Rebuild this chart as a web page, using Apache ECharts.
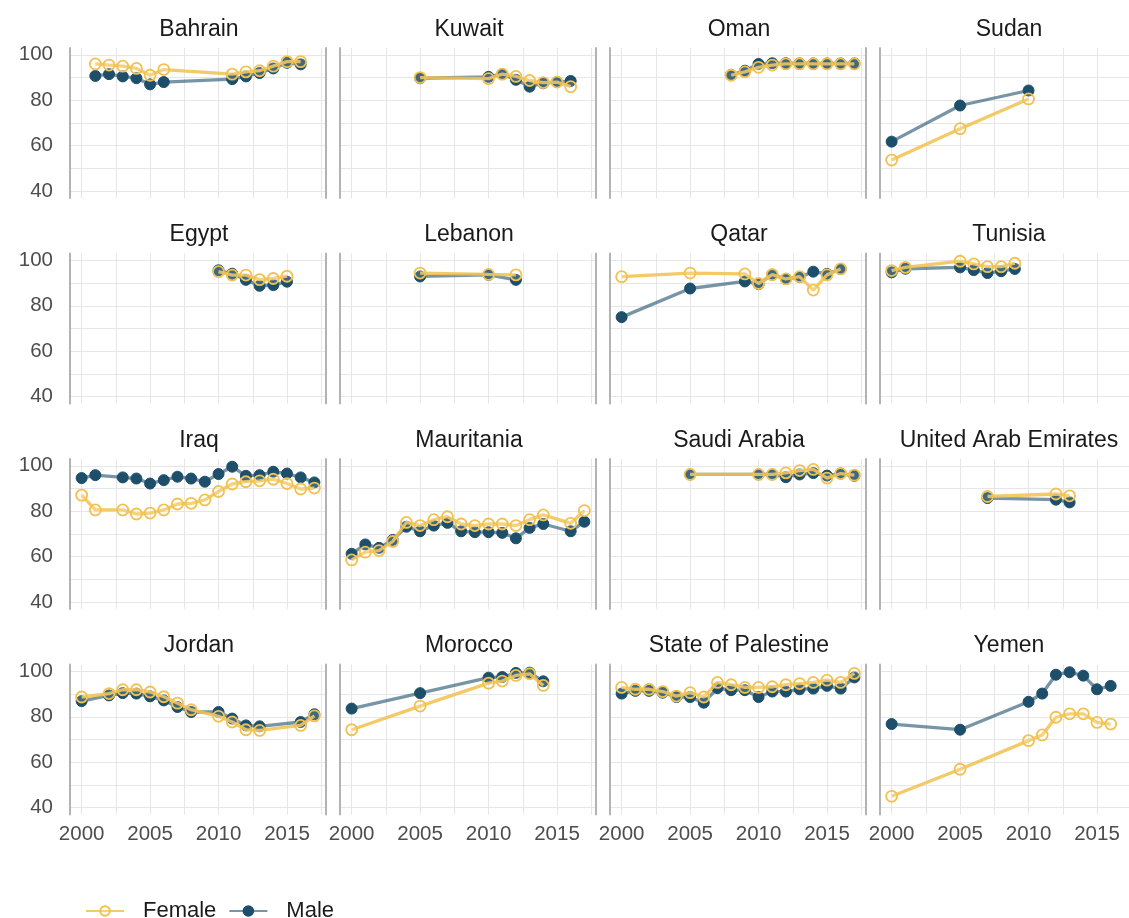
<!DOCTYPE html>
<html>
<head>
<meta charset="utf-8">
<script src="https://cdn.jsdelivr.net/npm/echarts@6/dist/echarts.min.js"></script>
<style>
  html, body { margin: 0; padding: 0; background: #fff; }
  #main { width: 1129px; height: 918px; }
</style>
</head>
<body>
<div id="main"></div>
<script>
// 国家顺序（4x4，按行）
var countries = ['Bahrain', 'Kuwait', 'Oman', 'Sudan',
  'Egypt', 'Lebanon', 'Qatar', 'Tunisia',
  'Iraq', 'Mauritania', 'Saudi Arabia', 'United Arab Emirates',
  'Jordan', 'Morocco', 'State of Palestine', 'Yemen'];

var xTicks = [2000, 2005, 2010, 2015];
var xGrid = [2000, 2002.5, 2005, 2007.5, 2010, 2012.5, 2015, 2017.5];
var yTicks = [40, 60, 80, 100];
var yGrid = [40, 50, 60, 70, 80, 90, 100];

// 各国数据（年份 / 女 / 男）
var bahrainYears = [2001, 2002, 2003, 2004, 2005, 2006, 2011, 2012, 2013, 2014, 2015, 2016];
var bahrainFemale = [96, 95.5, 95, 94, 91, 93.5, 91.5, 92.5, 93, 95, 97, 97];
var bahrainMale = [90.7, 91.5, 90.5, 89.7, 87, 88, 89.3, 90.5, 92, 94, 96.5, 95.8];

var kuwaitYears = [2005, 2010, 2011, 2012, 2013, 2014, 2015, 2016];
var kuwaitFemale = [90, 89.5, 91.5, 90.5, 88.7, 87.8, 88, 86];
var kuwaitMale = [89.7, 90.3, 91.5, 89, 86, 87.5, 88, 88.5];

var omanYears = [2008, 2009, 2010, 2011, 2012, 2013, 2014, 2015, 2016, 2017];
var omanFemale = [91, 92.5, 94.5, 95.5, 96, 96, 96, 96, 96, 96];
var omanMale = [91.2, 93, 96, 96.3, 96.3, 96.2, 96.2, 96.2, 96.2, 96.2];

var sudanYears = [2000, 2005, 2010];
var sudanFemale = [53.7, 67.5, 80.6];
var sudanMale = [61.8, 77.7, 84.3];

var egyptYears = [2010, 2011, 2012, 2013, 2014, 2015];
var egyptFemale = [95, 93.5, 93.5, 91.5, 92, 93];
var egyptMale = [95.6, 94.1, 91.4, 88.8, 89.1, 90.6];

var lebanonYears = [2005, 2010, 2012];
var lebanonFemale = [94.4, 93.8, 93.6];
var lebanonMale = [92.9, 93.6, 91.4];

var qatarYears = [2000, 2005, 2009, 2010, 2011, 2012, 2013, 2014, 2015, 2016];
var qatarFemale = [92.8, 94.4, 94, 89.8, 93.7, 91.8, 92.8, 86.9, 93.6, 96.2];
var qatarMale = [75, 87.6, 90.7, 89.5, 93.7, 91.8, 92.6, 95, 94, 96.2];

var tunisiaYears = [2000, 2001, 2005, 2006, 2007, 2008, 2009];
var tunisiaFemale = [95.5, 96.9, 99.6, 98.4, 97.2, 97.2, 98.7];
var tunisiaMale = [94.7, 96.3, 96.9, 95.7, 94.4, 95.2, 96.2];

var iraqYears = [2000, 2001, 2003, 2004, 2005, 2006, 2007, 2008, 2009, 2010, 2011, 2012, 2013, 2014, 2015, 2016, 2017];
var iraqFemale = [87.1, 80.6, 80.6, 78.8, 79.2, 80.6, 83.2, 83.5, 85, 88.7, 92, 93, 93.4, 94.1, 92.2, 89.8, 90.2];
var iraqMale = [94.6, 95.9, 94.9, 94.4, 92.2, 93.7, 95.2, 94.4, 93, 96.4, 99.6, 95.6, 95.9, 97.4, 96.6, 94.9, 92.7];

var mauritaniaYears = [2000, 2001, 2002, 2003, 2004, 2005, 2006, 2007, 2008, 2009, 2010, 2011, 2012, 2013, 2014, 2016, 2017];
var mauritaniaFemale = [58.6, 62, 62.7, 66.7, 75.1, 73.7, 76.3, 77.6, 74.4, 73.7, 74.4, 74.4, 73.7, 76.3, 78.4, 74.7, 80.3];
var mauritaniaMale = [61.3, 65.4, 63.9, 67.4, 73.2, 71.2, 73.7, 74.9, 71.2, 70.8, 70.8, 70.5, 68.1, 72.7, 74.4, 71.2, 75.4];

var saudiYears = [2005, 2010, 2011, 2012, 2013, 2014, 2015, 2016, 2017];
var saudiFemale = [96.2, 96.2, 96.2, 96.9, 97.9, 98.4, 94.6, 96.6, 95.9];
var saudiMale = [96.2, 96.2, 96.2, 95, 96.2, 96.8, 95.7, 96.6, 95.6];

var uaeYears = [2007, 2012, 2013];
var uaeFemale = [86.5, 87.6, 86.8];
var uaeMale = [85.8, 85.1, 83.9];

var jordanYears = [2000, 2002, 2003, 2004, 2005, 2006, 2007, 2008, 2010, 2011, 2012, 2013, 2016, 2017];
var jordanFemale = [88.7, 90.2, 91.9, 91.9, 90.9, 88.8, 86, 83.1, 80.2, 77.7, 74.3, 74, 76.2, 80.4];
var jordanMale = [86.9, 89.4, 90.4, 90.2, 89, 87.2, 84.3, 82.1, 82.1, 79.2, 76.2, 75.8, 77.7, 81.1];

var moroccoYears = [2000, 2005, 2010, 2011, 2012, 2013, 2014];
var moroccoFemale = [74.3, 84.7, 94.8, 95.7, 98.2, 98.9, 93.8];
var moroccoMale = [83.6, 90.4, 97.2, 97.5, 99.3, 99.4, 95.6];

var palestineYears = [2000, 2001, 2002, 2003, 2004, 2005, 2006, 2007, 2008, 2009, 2010, 2011, 2012, 2013, 2014, 2015, 2016, 2017];
var palestineFemale = [92.9, 92.1, 92.1, 91.1, 89.1, 90.6, 88.7, 95.1, 94.1, 92.9, 92.9, 93.2, 94.1, 94.6, 95.1, 96.1, 95.1, 99.1];
var palestineMale = [90.2, 91.4, 91.4, 90.6, 88.7, 88.7, 86.2, 92.6, 91.7, 91.7, 88.7, 91.1, 91.1, 92.1, 92.4, 93.6, 92.4, 97.3];

var yemenYears = [2000, 2005, 2010, 2011, 2012, 2013, 2014, 2015, 2016];
var yemenFemale = [45, 56.9, 69.5, 72, 79.8, 81.3, 81.3, 77.5, 76.8];
var yemenMale = [76.8, 74.3, 86.6, 90.2, 98.5, 99.6, 98.1, 92.1, 93.6];

var panelData = [
  [bahrainYears, bahrainFemale, bahrainMale],
  [kuwaitYears, kuwaitFemale, kuwaitMale],
  [omanYears, omanFemale, omanMale],
  [sudanYears, sudanFemale, sudanMale],
  [egyptYears, egyptFemale, egyptMale],
  [lebanonYears, lebanonFemale, lebanonMale],
  [qatarYears, qatarFemale, qatarMale],
  [tunisiaYears, tunisiaFemale, tunisiaMale],
  [iraqYears, iraqFemale, iraqMale],
  [mauritaniaYears, mauritaniaFemale, mauritaniaMale],
  [saudiYears, saudiFemale, saudiMale],
  [uaeYears, uaeFemale, uaeMale],
  [jordanYears, jordanFemale, jordanMale],
  [moroccoYears, moroccoFemale, moroccoMale],
  [palestineYears, palestineFemale, palestineMale],
  [yemenYears, yemenFemale, yemenMale]
];

var FEMALE = '#f2c14e';
var MALE = '#1d4f6b';
var FONT = 'Liberation Sans, Arial, sans-serif';

// 面板位置
var colLeft = [70, 340, 610, 880];
var rowTop = [48, 253.5, 459, 664.5];
var panelW = 256;
var panelH = 150;

function pairs(xs, ys) {
  var out = [];
  for (var i = 0; i < xs.length; i++) out.push([xs[i], ys[i]]);
  return out;
}

var grids = [], xAxes = [], yAxes = [], titles = [], series = [];

for (var i = 0; i < countries.length; i++) {
  var r = Math.floor(i / 4), c = i % 4;
  grids.push({
    left: colLeft[c], top: rowTop[r], width: panelW, height: panelH,
    outerBoundsMode: 'none'
  });
  titles.push({
    text: countries[i],
    left: colLeft[c] + panelW / 2 - 4,
    top: rowTop[r] - 35,
    textAlign: 'center',
    textStyle: { fontFamily: FONT, fontSize: 23, fontWeight: 'normal', color: '#1a1a1a' }
  });
  xAxes.push({
    type: 'value', gridIndex: i, min: 1999.15, max: 2017.85,
    axisLine: { show: false },
    axisTick: { show: false, customValues: xGrid },
    axisLabel: {
      show: r === 3, customValues: xTicks, margin: 9,
      formatter: function (v) { return String(v); },
      fontFamily: FONT, fontSize: 20.5, color: '#4d4d4d'
    },
    splitLine: { show: true, lineStyle: { color: '#e6e6e6', width: 1 } }
  });
  // 左侧：刻度与网格
  yAxes.push({
    type: 'value', gridIndex: i, min: 37, max: 103, position: 'left',
    axisLine: { show: true, lineStyle: { color: '#b3b3b3', width: 2 } },
    axisTick: { show: false, customValues: yGrid },
    axisLabel: {
      show: c === 0, customValues: yTicks, margin: 17,
      fontFamily: FONT, fontSize: 20.5, color: '#4d4d4d'
    },
    splitLine: { show: true, lineStyle: { color: '#e6e6e6', width: 1 } }
  });
  // 右侧边线（最后一列在画面外）
  yAxes.push({
    type: 'value', gridIndex: i, min: 37, max: 103, position: 'right',
    axisLine: { show: c !== 3, lineStyle: { color: '#b3b3b3', width: 2 } },
    axisTick: { show: false }, axisLabel: { show: false }, splitLine: { show: false }
  });

  var d = panelData[i];
  series.push({
    name: 'Male', type: 'line', xAxisIndex: i, yAxisIndex: 2 * i,
    data: pairs(d[0], d[2]),
    symbol: 'circle', symbolSize: 11,
    lineStyle: { color: MALE, width: 3.3, opacity: 0.6 },
    itemStyle: { color: MALE, borderColor: MALE, borderWidth: 1 },
    z: 2
  });
  series.push({
    name: 'Female', type: 'line', xAxisIndex: i, yAxisIndex: 2 * i,
    data: pairs(d[0], d[1]),
    symbol: 'circle', symbolSize: 11,
    lineStyle: { color: FEMALE, width: 3.3, opacity: 0.85 },
    itemStyle: { color: 'rgba(255,255,255,0.15)', borderColor: FEMALE, borderWidth: 1.8 },
    z: 3
  });
}

var chart = echarts.init(document.getElementById('main'));
chart.setOption({
  animation: false,
  backgroundColor: '#fff',
  title: titles,
  legend: {
    data: ['Female', 'Male'],
    left: 80, top: 895,
    itemWidth: 38, itemHeight: 12, itemGap: 12,
    textStyle: { fontFamily: FONT, fontSize: 22, color: '#1a1a1a', padding: [0, 0, 0, 14] }
  },
  grid: grids,
  xAxis: xAxes,
  yAxis: yAxes,
  series: series
});
</script>
</body>
</html>
